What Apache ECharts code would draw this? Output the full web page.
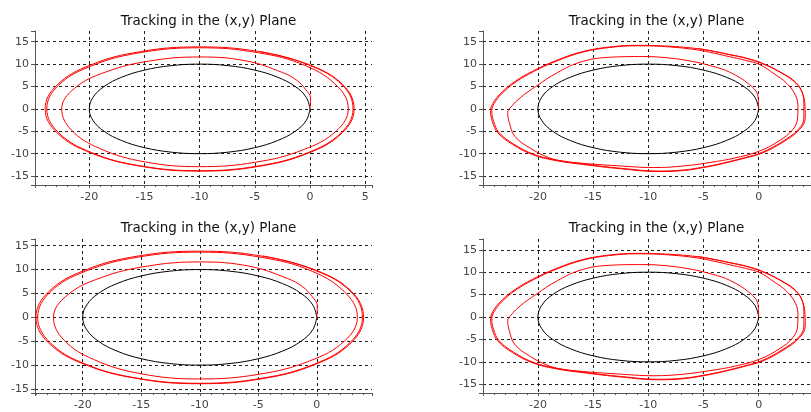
<!DOCTYPE html>
<html>
<head>
<meta charset="utf-8">
<script src="https://cdn.jsdelivr.net/npm/echarts@6/dist/echarts.min.js"></script>
<style>
  html, body { margin: 0; padding: 0; background: #fff; }
  #chart { width: 811px; height: 412px; }
</style>
</head>
<body>
<div id="chart"></div>
<script>
// reference circle (black), centre (-10, 0), radius 10
const circlePts = [
  [0, 0], [-0.34, 2.59], [-1.34, 5], [-2.93, 7.07], [-5, 8.66], [-7.41, 9.66],
  [-10, 10], [-12.59, 9.66], [-15, 8.66], [-17.07, 7.07], [-18.66, 5], [-19.66, 2.59],
  [-20, 0], [-19.66, -2.59], [-18.66, -5], [-17.07, -7.07], [-15, -8.66], [-12.59, -9.66],
  [-10, -10], [-7.41, -9.66], [-5, -8.66], [-2.93, -7.07], [-1.34, -5], [-0.34, -2.59], [0, 0]
];

// tracked path, panels 1 and 3
const trackA = [
  [0, 0], [0.05, 2.4], [-0.39, 4.33], [-1.2, 6.4], [-2.5, 8.13], [-5.79, 10.72], [-10, 11.6],
  [-14.48, 10.72], [-18.48, 8.27], [-21.36, 4.56], [-22.5, 0], [-21.64, -4.67], [-19.05, -8.84],
  [-14.98, -11.83], [-10, -12.9], [-4.94, -11.92], [-0.6, -9.12], [2.38, -4.94], [3.47, 0],
  [2.57, 4.83], [-0.35, 9.6], [-4.76, 12.57], [-10, 13.65], [-15.26, 12.61], [-19.76, 9.65],
  [-22.8, 5.25], [-23.85, 0], [-22.8, -5.27], [-19.79, -9.76], [-15.32, -12.75], [-10, -13.8],
  [-4.68, -12.75], [-0.17, -9.76], [2.84, -5.28], [3.9, 0],
  [2.94, 5.3], [-0.1, 9.79], [-4.64, 12.8], [-10, 13.85], [-15.36, 12.8], [-19.9, 9.79],
  [-22.94, 5.3], [-24, 0], [-22.94, -5.3], [-19.9, -9.79], [-15.36, -12.8], [-10, -13.9],
  [-4.64, -12.84], [-0.1, -9.83], [2.94, -5.32], [4.0, 0], [3.0, 5.35], [-0.05, 9.85], [-4.6, 12.85]
];

// tracked path, panels 2 and 4 (egg shaped, pointed on the left)
const trackB = [
  // first turn
  [0, 0], [-0.06, 2.8], [-0.82, 5.4], [-2.63, 8.2], [-4.15, 9.51], [-6, 10.6], [-8.12, 11.37],
  [-10.5, 11.7], [-13.24, 11.57], [-15.95, 10.6], [-18.26, 8.08], [-20.2, 5.0], [-21.55, 2.6],
  [-22.45, 0.4], [-22.74, -0.8], [-22.6, -3.0], [-22.1, -6.1], [-20.7, -8.78], [-19.0, -10.9],
  [-17.68, -11.68], [-15.95, -12.15], [-12.85, -12.69], [-9.5, -13.1], [-6.88, -12.77],
  [-4.5, -12.0], [-2.08, -10.93], [0.09, -9.4], [1.85, -7.14], [3.1, -4.6], [3.53, -2.02],
  [3.56, 0.3],
  // second turn
  [3.35, 3.0], [2.55, 5.7], [1.4, 7.85], [0.09, 9.9], [-1.2, 10.85], [-2.63, 11.65], [-3.95, 12.4],
  [-5.5, 13.15], [-8.1, 13.85], [-11, 14.1], [-13.5, 13.72], [-15.9, 12.7], [-18.3, 10.7],
  [-20.4, 8.33], [-21.95, 6.1], [-23.08, 3.87], [-23.84, 1.7], [-24.18, -0.4], [-24.02, -2.75],
  [-23.53, -5.26], [-22.2, -7.85], [-20.4, -10.12], [-18.38, -11.42], [-15.9, -12.3],
  [-12.42, -13.28], [-9, -13.88], [-6.72, -13.63], [-5.03, -13.0], [-3.8, -12.42], [-2.68, -11.78],
  [-1.25, -10.88], [0.3, -9.72], [2.1, -7.36], [3.6, -4.58], [4.1, -2.0], [4.1, 0.55],
  // third turn
  [4.0, 3.25], [3.35, 5.8], [1.92, 8.21], [0.24, 10.2], [-1.21, 11.34], [-2.63, 12.1], [-3.9, 12.75],
  [-5.5, 13.45], [-8.12, 14.0], [-11, 14.2], [-13.53, 13.82], [-15.95, 12.8], [-18.37, 10.79],
  [-20.5, 8.4], [-22.07, 6.15], [-23.2, 3.9], [-23.96, 1.72], [-24.3, -0.4], [-24.14, -2.75],
  [-23.65, -5.3], [-22.32, -7.91], [-20.5, -10.2], [-18.46, -11.51], [-15.95, -12.4],
  [-12.44, -13.39], [-9, -14.0], [-6.71, -13.74], [-5, -13.1], [-3.75, -12.5], [-2.63, -11.85],
  [-1.18, -10.95], [0.39, -9.8], [2.21, -7.41], [3.71, -4.6], [4.22, -2.0], [4.2, 0.6],
  [4.0, 3.3], [3.4, 5.85], [1.95, 8.25], [0.28, 10.25], [-1.2, 11.4], [-2.63, 12.15],
  [-3.9, 12.8], [-5.5, 13.5]
];

const titleText = 'Tracking in the (x,y) Plane';

// grid boxes and axis ranges of the 4 panels
const panels = [
  { left: 35, top: 31, titleTop: 9, xr: [-24.92, 5.62], yr: [-17.0, 17.4], track: trackA },
  { left: 483, top: 31, titleTop: 9, xr: [-24.98, 5.56], yr: [-17.0, 17.4], track: trackB },
  { left: 35, top: 239, titleTop: 216, xr: [-24.08, 4.72], yr: [-15.84, 16.4], track: trackA },
  { left: 483, top: 239, titleTop: 216, xr: [-24.98, 5.56], yr: [-16.95, 17.4], track: trackB }
];

const FONT = 'DejaVu Sans';
const W = 337, H = 154;

const tickFmt = v => (Math.abs(v % 5) < 1e-6 ? String(Math.round(v)) : '');
const gridLine = { show: true, showMinLine: false, showMaxLine: false,
  lineStyle: { color: '#222', width: 1, type: [3, 3] } };

const title = [], grid = [], xAxis = [], yAxis = [], series = [];

panels.forEach((p, i) => {
  title.push({
    text: titleText, left: p.left + W / 2, top: p.titleTop, textAlign: 'center',
    textStyle: { fontFamily: FONT, fontSize: 13.5, fontWeight: 'normal', color: '#111' }
  });
  grid.push({ left: p.left, top: p.top, width: W, height: H, outerBoundsMode: 'none' });
  xAxis.push({
    type: 'value', gridIndex: i, min: p.xr[0], max: p.xr[1],
    axisLine: { show: true, onZero: false, lineStyle: { color: '#555' } },
    axisTick: { show: true, length: 3, lineStyle: { color: '#555' } },
    minorTick: { show: true, splitNumber: 5, length: 2, lineStyle: { color: '#555' } },
    axisLabel: { color: '#444', fontFamily: FONT, fontSize: 11, margin: 7, formatter: tickFmt },
    splitLine: gridLine
  });
  yAxis.push({
    type: 'value', gridIndex: i, min: p.yr[0], max: p.yr[1],
    axisLine: { show: true, onZero: false, lineStyle: { color: '#555' } },
    axisTick: { show: true, length: 4, lineStyle: { color: '#555' } },
    axisLabel: { color: '#444', fontFamily: FONT, fontSize: 11, margin: 6, formatter: tickFmt },
    splitLine: gridLine
  });
  series.push({
    type: 'line', xAxisIndex: i, yAxisIndex: i, data: circlePts,
    showSymbol: false, smooth: 0.4, lineStyle: { color: '#000', width: 1 }, silent: true
  });
  series.push({
    type: 'line', xAxisIndex: i, yAxisIndex: i, data: p.track,
    showSymbol: false, smooth: 0.4, lineStyle: { color: '#ff0000', width: 1 }, silent: true
  });
});

const chart = echarts.init(document.getElementById('chart'));
chart.setOption({
  animation: false,
  backgroundColor: '#fff',
  title, grid, xAxis, yAxis, series
});
</script>
</body>
</html>
